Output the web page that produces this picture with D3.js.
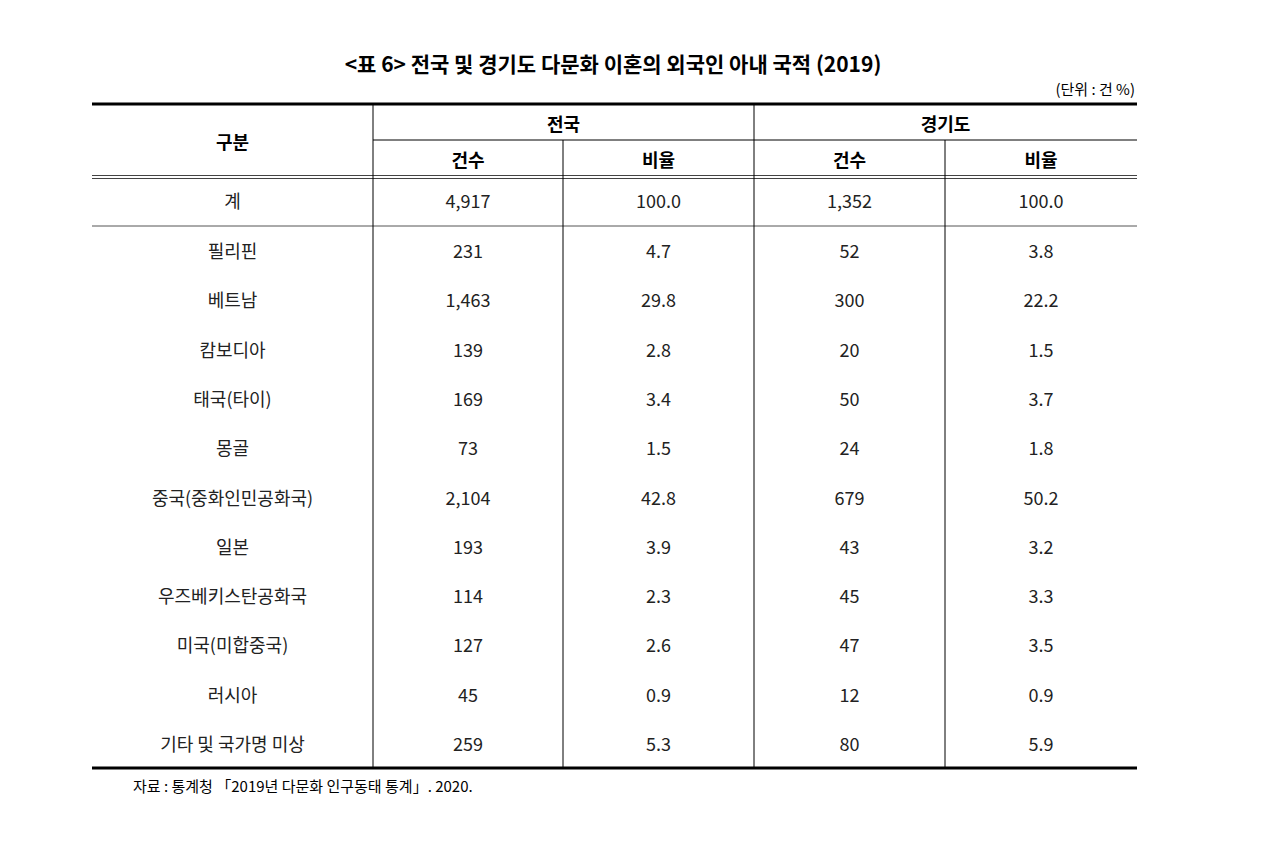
<!DOCTYPE html>
<html><head><meta charset="utf-8">
<script src="https://cdn.jsdelivr.net/npm/d3@7/dist/d3.min.js"></script>
<style>body{margin:0;background:#fff}</style></head>
<body><svg id="c" width="1280" height="841"></svg>
<script>
const title = "<표 6> 전국 및 경기도 다문화 이혼의 외국인 아내 국적 (2019)";
const unit = "(단위 : 건 %)";
const source = "자료 : 통계청 「2019년 다문화 인구동태 통계」. 2020.";
const groups = ["전국", "경기도"];
const subHeaders = ["건수", "비율", "건수", "비율"];
const categories = ["필리핀","베트남","캄보디아","태국(타이)","몽골","중국(중화인민공화국)","일본","우즈베키스탄공화국","미국(미합중국)","러시아","기타 및 국가명 미상"];
const totalRow = ["4,917","100.0","1,352","100.0"];
const natCount = ["231","1,463","139","169","73","2,104","193","114","127","45","259"];
const natRatio = ["4.7","29.8","2.8","3.4","1.5","42.8","3.9","2.3","2.6","0.9","5.3"];
const gyCount = ["52","300","20","50","24","679","43","45","47","12","80"];
const gyRatio = ["3.8","22.2","1.5","3.7","1.8","50.2","3.2","3.3","3.5","0.9","5.9"];

const svg = d3.select("#c");
const F = "'Noto Sans CJK KR', sans-serif";
const L = 92, R = 1137;
const colEdges = [L, 373, 563, 754, 945, R];
const cx = i => (colEdges[i] + colEdges[i+1]) / 2;
const y = d3.scaleBand().domain(d3.range(categories.length)).range([226, 768]);

svg.append("text").attr("x", 613).attr("y", 72).attr("text-anchor","middle")
  .attr("font-family",F).attr("font-weight","bold").attr("font-size",21).text(title);
svg.append("text").attr("x", 1135).attr("y", 95).attr("text-anchor","end")
  .attr("font-family",F).attr("font-size",15).text(unit);

const line = (x1,y1,x2,y2,w,c) => svg.append("line").attr("x1",x1).attr("y1",y1).attr("x2",x2).attr("y2",y2)
  .attr("stroke",c||"#000").attr("stroke-width",w||1);
line(L,104,R,104,3);
line(373,140,R,140,1);
line(L,175.5,R,175.5,1,"#444"); line(L,178.5,R,178.5,1,"#444");
line(L,226,R,226,1,"#555");
line(L,768,R,768,3);
[373,754].forEach(x=>line(x,104,x,768,1));
[563,945].forEach(x=>line(x,140,x,768,1));

const txt = (x,yy,t,bold) => svg.append("text").attr("x",x).attr("y",yy).attr("text-anchor","middle")
  .attr("dominant-baseline","central").attr("font-family",F).attr("font-size",bold?18:18)
  .attr("font-weight",bold?"bold":"normal").attr("fill",bold?"#000":"#222").text(t);
txt(cx(0),141,"구분",true);
txt((373+754)/2,123,groups[0],true);
txt((754+R)/2,123,groups[1],true);
subHeaders.forEach((s,i)=>txt(cx(i+1),159,s,true));
txt(cx(0),200,"계");
totalRow.forEach((v,i)=>txt(cx(i+1),200,v));
const cols = [categories, natCount, natRatio, gyCount, gyRatio];
categories.forEach((c,r)=>{
  const yy = y(r) + y.bandwidth()/2 - 0.5;
  cols.forEach((arr,i)=>txt(cx(i),yy,arr[r]));
});
svg.append("text").attr("x",133).attr("y",785).attr("dominant-baseline","central")
  .attr("font-family",F).attr("font-size",15).text(source);
</script></body></html>
